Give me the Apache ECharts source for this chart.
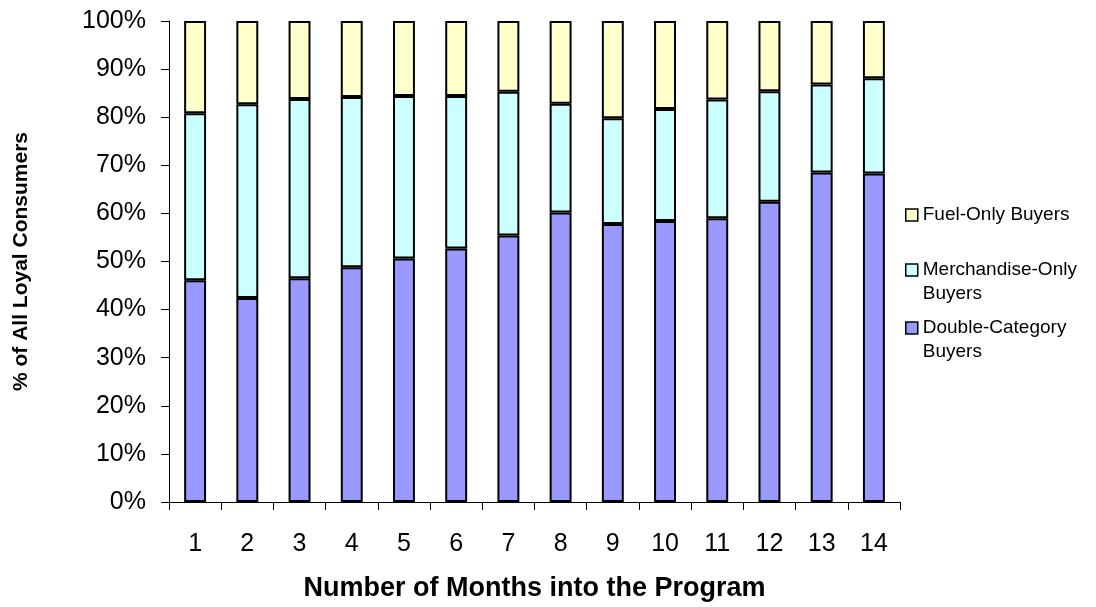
<!DOCTYPE html>
<html>
<head>
<meta charset="utf-8">
<script src="https://cdn.jsdelivr.net/npm/echarts@6/dist/echarts.min.js"></script>
<style>
  html, body { margin: 0; padding: 0; background: #fff; }
  #chart { width: 1096px; height: 607px; }
</style>
</head>
<body>
<div id="chart"></div>
<script>
// Months into the loyalty program
const months = ['1','2','3','4','5','6','7','8','9','10','11','12','13','14'];

// Share of all loyal consumers (%) per buyer group
const doubleCategory   = [46.1, 42.4, 46.5, 48.8, 50.6, 52.7, 55.4, 60.2, 57.8, 58.4, 59.0, 62.4, 68.5, 68.3];
const merchandiseOnly  = [34.7, 40.3, 37.3, 35.4, 33.8, 31.7, 29.9, 22.6, 22.0, 23.3, 24.7, 23.0, 18.3, 19.8];
const fuelOnly         = [19.2, 17.3, 16.2, 15.8, 15.6, 15.6, 14.7, 17.2, 20.2, 18.3, 16.3, 14.6, 13.2, 11.9];

const seriesNames = ['Double-Category Buyers', 'Merchandise-Only Buyers', 'Fuel-Only Buyers'];
// Legend labels; the leading blank line keeps the swatch level with the first text line
const legendLabels = {
  'Fuel-Only Buyers': 'Fuel-Only Buyers',
  'Merchandise-Only Buyers': '\u00a0\nMerchandise-Only\nBuyers',
  'Double-Category Buyers': '\u00a0\nDouble-Category\nBuyers'
};
const colors = ['#9999FF', '#CCFFFF', '#FFFFCC'];

const FONT = '"Liberation Sans", Arial, Helvetica, sans-serif';

function makeLegend(name, top) {
  return {
    data: [name],
    left: 905,
    top: top,
    orient: 'vertical',
    padding: 0,
    itemWidth: 12,
    itemHeight: 12,
    itemGap: 0,
    icon: 'rect',
    selectedMode: false,
    itemStyle: { borderColor: '#000', borderWidth: 1.5 },
    formatter: n => legendLabels[n],
    textStyle: {
      fontFamily: FONT,
      fontSize: 19,
      color: '#000',
      lineHeight: 24
    }
  };
}

const chart = echarts.init(document.getElementById('chart'), null, { renderer: 'canvas' });

chart.setOption({
  animation: false,
  backgroundColor: '#fff',
  grid: { left: 169, right: 196, top: 21, bottom: 104, containLabel: false },
  legend: [
    makeLegend('Fuel-Only Buyers', 203),
    makeLegend('Merchandise-Only Buyers', 234),
    makeLegend('Double-Category Buyers', 292)
  ],
  xAxis: {
    type: 'category',
    data: months,
    boundaryGap: true,
    name: 'Number of Months into the Program',
    nameLocation: 'middle',
    nameGap: 73,
    nameTextStyle: { fontFamily: FONT, fontSize: 27, fontWeight: 'bold', color: '#000' },
    axisLine: { lineStyle: { color: '#000', width: 1 } },
    axisTick: { show: true, length: 8, lineStyle: { color: '#000' } },
    axisLabel: { fontFamily: FONT, fontSize: 25, color: '#000', margin: 30 },
    splitLine: { show: false }
  },
  yAxis: {
    type: 'value',
    min: 0,
    max: 100,
    interval: 10,
    name: '% of All Loyal Consumers',
    nameLocation: 'middle',
    nameGap: 137,
    nameTextStyle: { fontFamily: FONT, fontSize: 21, fontWeight: 'bold', color: '#000' },
    axisLine: { show: true, lineStyle: { color: '#000', width: 1 } },
    axisTick: { show: true, length: 8, lineStyle: { color: '#000' } },
    axisLabel: { fontFamily: FONT, fontSize: 25, color: '#000', margin: 23, formatter: '{value}%' },
    splitLine: { show: false }
  },
  series: [doubleCategory, merchandiseOnly, fuelOnly].map((vals, i) => ({
    name: seriesNames[i],
    type: 'bar',
    stack: 'share',
    data: vals,
    barWidth: '42%',
    itemStyle: { color: colors[i], borderColor: '#000', borderWidth: 2 }
  }))
});
</script>
</body>
</html>
